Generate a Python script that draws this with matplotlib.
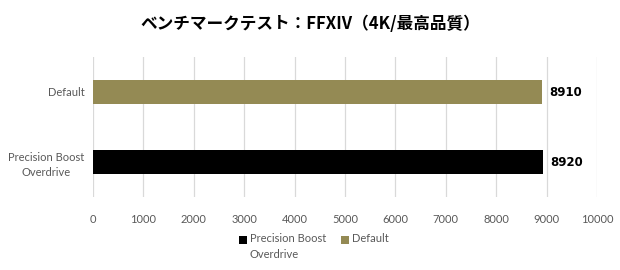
import matplotlib
matplotlib.use("Agg")
import matplotlib.pyplot as plt
from matplotlib.patches import Rectangle

title = "ベンチマークテスト：FFXIV（4K/最高品質）"
categories = ["Precision Boost\nOverdrive", "Default"]
values = [8920, 8910]
colors = ["#000000", "#948A54"]
legend_labels = ["Precision Boost\nOverdrive", "Default"]
xticks = list(range(0, 10001, 1000))

plt.rcParams['font.family'] = ['Lato', 'DejaVu Sans']

W, H = 620, 270
fig = plt.figure(figsize=(W / 100, H / 100), dpi=100)
ax = fig.add_axes([93/W, 73/H, 504/W, 140/H])

ypos = list(range(len(categories)))
ax.barh(ypos, values, height=0.34, color=colors, zorder=3)
ax.set_ylim(-0.5, 1.5)
ax.set_xlim(0, 10000)
ax.set_xticks(xticks)
ax.set_xticklabels([str(t) for t in xticks], fontsize=8, color="#595959")
ax.set_yticks(ypos)
ax.set_yticklabels(categories, fontsize=8, color="#595959", linespacing=1.5)
for t in ax.get_yticklabels():
    t.set_multialignment("center")
ax.tick_params(axis="both", length=0)
ax.tick_params(axis="x", pad=12)
ax.tick_params(axis="y", pad=6)
for s in ax.spines.values():
    s.set_visible(False)
ax.grid(axis="x", color="#D9D9D9", linewidth=0.9, zorder=0)

for y, v in zip(ypos, values):
    ax.text(v + 150, y, str(v), va="center", ha="left", fontsize=8.5,
            fontweight="bold", color="#000000", family=['DejaVu Sans'])

fig.text(0.5, 1 - 24/H, title, ha="center", va="center", fontsize=12, fontweight="bold",
         family=['Noto Sans CJK JP', 'DejaVu Sans'])

# manual legend (Excel style: marker aligned with first text line)
leg_x = [239, 341]
leg_y = 240
sq = 8
for x0, c, lab in zip(leg_x, colors, legend_labels):
    fig.patches.append(Rectangle((x0 / W, (H - leg_y - sq / 2) / H), sq / W, sq / H,
                                 transform=fig.transFigure, facecolor=c, edgecolor="none"))
    fig.text((x0 + sq + 3) / W, (H - leg_y + 7) / H, lab, ha="left", va="top",
             fontsize=8, color="#595959", linespacing=1.5)

fig.savefig("out.png", dpi=100)
